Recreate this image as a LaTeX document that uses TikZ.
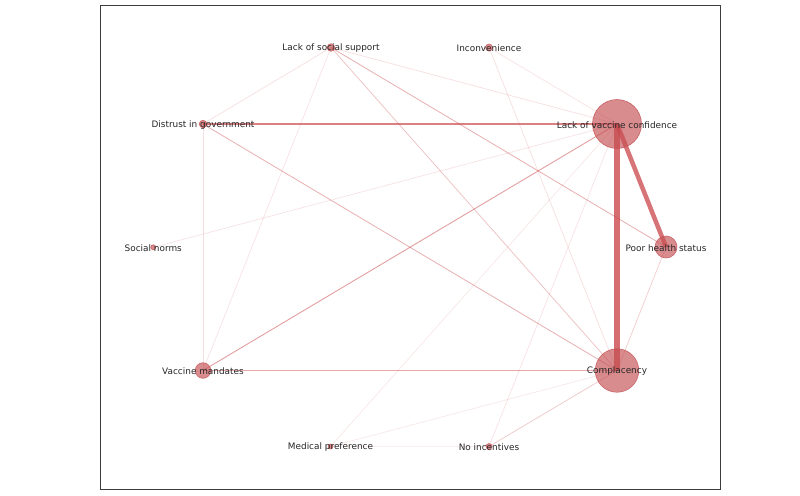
\documentclass[tikz,border=0pt]{standalone}
\usepackage{fontspec}
\setmainfont{DejaVu Sans}
\definecolor{edgered}{RGB}{200,62,66}
\definecolor{nodered}{RGB}{196,78,82}
\definecolor{framegray}{RGB}{60,60,60}
\pgfdeclarelayer{bg}
\pgfsetlayers{bg,main}
\begin{document}
\begin{tikzpicture}[x=1pt,y=-1pt,
  vtx/.style={circle,inner sep=0pt,outer sep=0pt,fill=nodered,fill opacity=0.65,draw=nodered,draw opacity=0.8,line width=0.6pt,minimum size=#1},
  lbl/.style={inner sep=0pt,text=black!85,font=\fontsize{8.9}{10}\selectfont,yshift=-0.8pt},
  edg/.style={draw=edgered,line width=0.75pt,draw opacity=#1},
  frame/.style={draw=framegray,line width=1pt}]
\useasboundingbox (0,0) rectangle (800,495);
\path[frame] (100,6) rectangle (720,489);
% nodes
\node[vtx=7.6pt] (lss) at (331,47.5) {};
\node[vtx=7pt] (inc) at (489,47.5) {};
\node[vtx=7.6pt] (dig) at (203,124) {};
\node[vtx=49pt] (lvc) at (617,124) {};
\node[vtx=5pt] (sn) at (153.3,247.3) {};
\node[vtx=22pt] (phs) at (666,247) {};
\node[vtx=15.6pt] (vm) at (203,370.5) {};
\node[vtx=43.5pt] (com) at (617,370.5) {};
\node[vtx=5pt] (mp) at (330.5,446.5) {};
\node[vtx=6pt] (ni) at (489,446.5) {};
% edges
\begin{pgfonlayer}{bg}
\draw[edg=0.75,line width=6.7pt] (lvc.center) -- (com.center);
\draw[edg=0.72,line width=4.5pt] (lvc.center) -- (phs.center);
\draw[edg=0.65,line width=1.3pt] (dig.center) -- (lvc.center);
\draw[edg=0.5,line width=0.9pt] (vm.center) -- (lvc.center);
\draw[edg=0.45,line width=0.9pt] (vm.center) -- (com.center);
\draw[edg=0.4,line width=0.85pt] (dig.center) -- (com.center);
\draw[edg=0.4,line width=0.85pt] (lss.center) -- (phs.center);
\draw[edg=0.32] (lss.center) -- (com.center);
\draw[edg=0.25] (phs.center) -- (com.center);
\draw[edg=0.28] (ni.center) -- (com.center);
\draw[edg=0.16] (lss.center) -- (lvc.center);
\draw[edg=0.16] (lss.center) -- (dig.center);
\draw[edg=0.14] (lss.center) -- (vm.center);
\draw[edg=0.14] (inc.center) -- (lvc.center);
\draw[edg=0.16] (inc.center) -- (com.center);
\draw[edg=0.14] (sn.center) -- (lvc.center);
\draw[edg=0.16] (dig.center) -- (vm.center);
\draw[edg=0.12] (mp.center) -- (lvc.center);
\draw[edg=0.12] (mp.center) -- (com.center);
\draw[edg=0.09] (mp.center) -- (ni.center);
\draw[edg=0.14] (ni.center) -- (lvc.center);
\end{pgfonlayer}
% labels
\node[lbl] (lss-t) at (lss) {Lack of social support};
\node[lbl] (inc-t) at (inc) {Inconvenience};
\node[lbl] (dig-t) at (dig) {Distrust in government};
\node[lbl] (lvc-t) at (lvc) {Lack of vaccine confidence};
\node[lbl] (sn-t) at (sn) {Social norms};
\node[lbl] (phs-t) at (phs) {Poor health status};
\node[lbl] (vm-t) at (vm) {Vaccine mandates};
\node[lbl] (com-t) at (com) {Complacency};
\node[lbl] (mp-t) at (mp) {Medical preference};
\node[lbl] (ni-t) at (ni) {No incentives};
\end{tikzpicture}
\end{document}
